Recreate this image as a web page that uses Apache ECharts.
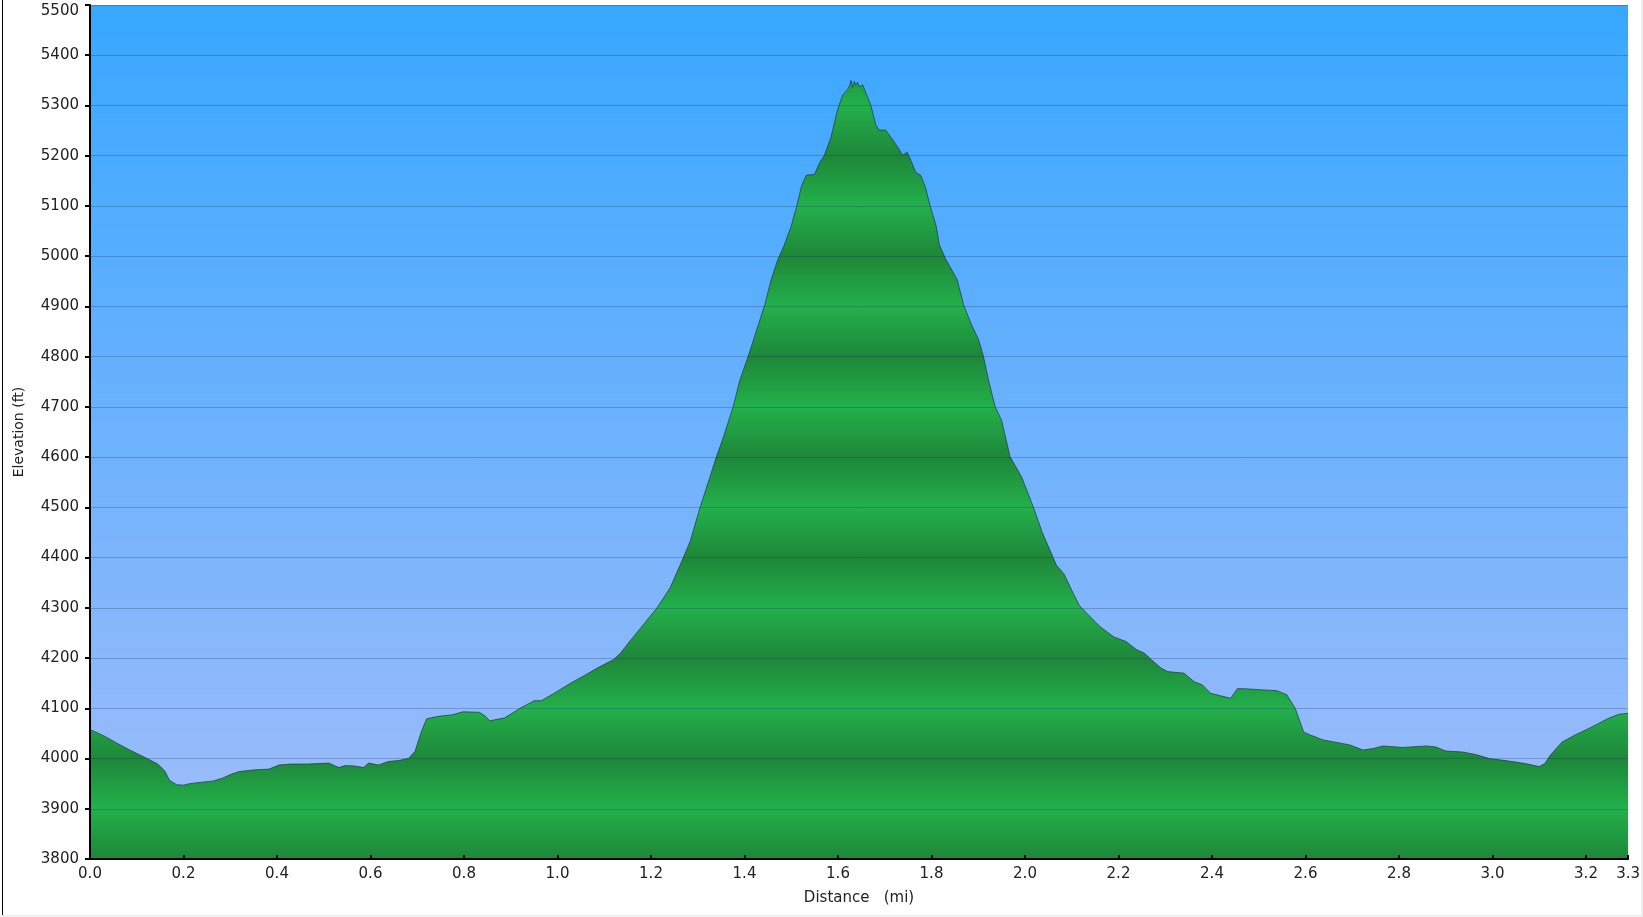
<!DOCTYPE html>
<html>
<head>
<meta charset="utf-8">
<script src="https://cdn.jsdelivr.net/npm/echarts@6/dist/echarts.min.js"></script>
<style>
  html, body { margin: 0; padding: 0; background: #ffffff; }
  #chart { position: absolute; left: 0; top: 0; width: 1643px; height: 917px; }
  #lb { position: absolute; left: 2px; top: 0; width: 1px; height: 915px; background: #000; }
  #bb { position: absolute; left: 0; top: 915px; width: 1643px; height: 2px; background: #efefef; }
  #rb { position: absolute; left: 1641px; top: 0; width: 2px; height: 917px; background: #efefef; }
</style>
</head>
<body>
<div id="chart"></div>
<div id="lb"></div><div id="bb"></div><div id="rb"></div>
<script>
// ---- data ----
const distanceMi = [
  0.00, 0.03, 0.057, 0.085, 0.12, 0.145, 0.16, 0.17, 0.185, 0.20,
  0.213, 0.24, 0.262, 0.284, 0.30, 0.319, 0.347, 0.383, 0.404, 0.43,
  0.468, 0.511, 0.532, 0.546, 0.567, 0.585, 0.596, 0.617, 0.638, 0.66,
  0.681, 0.695, 0.709, 0.72, 0.745, 0.775, 0.798, 0.833, 0.845, 0.855,
  0.887, 0.908, 0.922, 0.95, 0.965, 0.993, 1.028, 1.057, 1.085, 1.12,
  1.135, 1.156, 1.184, 1.213, 1.241, 1.266, 1.284, 1.305, 1.326, 1.34,
  1.355, 1.376, 1.39, 1.408, 1.426, 1.443, 1.457, 1.47, 1.485, 1.50,
  1.511, 1.522, 1.532, 1.55, 1.56, 1.571, 1.585, 1.599, 1.61, 1.62,
  1.625, 1.628, 1.631, 1.635, 1.638, 1.642, 1.645, 1.653, 1.66, 1.67,
  1.681, 1.688, 1.702, 1.713, 1.73, 1.738, 1.748, 1.759, 1.766, 1.777,
  1.787, 1.798, 1.81, 1.817, 1.83, 1.842, 1.855, 1.869, 1.885, 1.901,
  1.911, 1.922, 1.936, 1.95, 1.968, 1.993, 2.018, 2.037, 2.057, 2.067,
  2.083, 2.10, 2.116, 2.127, 2.16, 2.19, 2.216, 2.238, 2.255, 2.27,
  2.291, 2.305, 2.34, 2.362, 2.379, 2.397, 2.418, 2.44, 2.454, 2.468,
  2.503, 2.539, 2.56, 2.578, 2.596, 2.61, 2.638, 2.667, 2.695, 2.723,
  2.745, 2.766, 2.809, 2.858, 2.879, 2.90, 2.936, 2.964, 2.993, 3.035,
  3.07, 3.10, 3.112, 3.124, 3.149, 3.177, 3.213, 3.248, 3.27, 3.29
];
const elevationFt = [
  4058, 4045, 4031, 4017, 4001, 3989, 3975, 3957, 3948, 3947,
  3950, 3953, 3955, 3961, 3968, 3974, 3977, 3979, 3987, 3989,
  3989, 3991, 3982, 3986, 3985, 3982, 3991, 3987, 3994, 3996,
  4000, 4014, 4054, 4079, 4084, 4087, 4093, 4092, 4085, 4075,
  4081, 4093, 4101, 4115, 4115, 4130, 4150, 4165, 4180, 4197,
  4210, 4235, 4267, 4300, 4340, 4393, 4433, 4500, 4560, 4601,
  4640, 4701, 4753, 4801, 4853, 4902, 4953, 4990, 5022, 5060,
  5097, 5140, 5161, 5163, 5185, 5201, 5237, 5291, 5321, 5331,
  5340, 5350, 5336, 5348, 5340, 5346, 5337, 5341, 5324, 5301,
  5261, 5251, 5251, 5237, 5214, 5201, 5207, 5184, 5167, 5161,
  5137, 5097, 5060, 5022, 4995, 4975, 4953, 4902, 4865, 4833,
  4801, 4753, 4701, 4673, 4601, 4560, 4500, 4450, 4407, 4385,
  4368, 4335, 4305, 4294, 4263, 4242, 4233, 4217, 4210, 4197,
  4180, 4173, 4170, 4153, 4147, 4130, 4125, 4120, 4139, 4139,
  4137, 4135, 4127, 4100, 4053, 4047, 4037, 4032, 4027, 4017,
  4020, 4025, 4022, 4025, 4023, 4015, 4013, 4008, 4000, 3995,
  3990, 3984, 3990, 4007, 4033, 4047, 4063, 4080, 4088, 4090
];
const yMin = 3800, yMax = 5500, yStep = 100;
const xMin = 0, xMax = 3.29, xStep = 0.2;
const xTitle = 'Distance   (mi)';
const yTitle = 'Elevation (ft)';

// ---- styles ----
const LIGHT = [35, 176, 75];
const DARK = [30, 135, 57];
const FONT = 'DejaVu Sans';
const FS = 15;
function rgb(c) { return 'rgb(' + c.map(Math.round).join(',') + ')'; }
function mix(a, b, t) { return [0,1,2].map(i => a[i] + (b[i] - a[i]) * t); }

const points = distanceMi.map((d, i) => [d, elevationFt[i]]);
const maxE = Math.max.apply(null, elevationFt);

// banded gradient: light at odd hundreds, dark at even hundreds (offsets in data units)
function bandColor(v) {
  const k = Math.floor((v - yMin) / yStep);
  const frac = (v - yMin) / yStep - k;
  const lowIsDark = (k % 2 === 0);
  const lowC = lowIsDark ? DARK : LIGHT, highC = lowIsDark ? LIGHT : DARK;
  return mix(lowC, highC, frac);
}
const stops = [{ offset: 0, color: rgb(bandColor(maxE)) }];
for (let h = Math.floor(maxE / yStep) * yStep; h >= yMin; h -= yStep) {
  stops.push({ offset: (maxE - h) / (maxE - yMin), color: rgb(bandColor(h)) });
}

const chart = echarts.init(document.getElementById('chart'));
chart.setOption({
  animation: false,
  backgroundColor: '#ffffff',
  grid: {
    left: 90, right: 6, top: 5, bottom: 58,
    show: true, borderWidth: 0, z: 0,
    backgroundColor: {
      type: 'linear', x: 0, y: 0, x2: 0, y2: 1,
      colorStops: [
        { offset: 0, color: '#37A7FF' },
        { offset: 1, color: '#A2BDFA' }
      ]
    }
  },
  xAxis: {
    type: 'value', min: xMin, max: xMax, interval: xStep, z: 3,
    name: xTitle, nameLocation: 'middle', nameGap: 32,
    nameTextStyle: { fontFamily: FONT, fontSize: FS, color: '#222' },
    axisLine: { show: true, lineStyle: { color: '#000', width: 2 } },
    axisTick: { show: true, inside: true, length: 4, lineStyle: { color: '#000', width: 2 } },
    axisLabel: {
      fontFamily: FONT, fontSize: FS, color: '#222', margin: 8,
      formatter: v => v.toFixed(1)
    },
    splitLine: { show: false }
  },
  yAxis: {
    type: 'value', min: yMin, max: yMax, interval: yStep, z: 3,
    name: yTitle, nameLocation: 'middle', nameGap: 64, nameRotate: 90,
    nameTextStyle: { fontFamily: FONT, fontSize: 14, color: '#222' },
    axisLine: { show: true, lineStyle: { color: '#000', width: 2 } },
    axisTick: { show: true, inside: false, length: 5, lineStyle: { color: '#000', width: 2 } },
    axisLabel: {
      fontFamily: FONT, fontSize: FS, color: '#222', margin: 11,
      formatter: v => (v === yMax ? '{t|' + v + '}' : String(v)),
      rich: {
        t: { fontFamily: FONT, fontSize: FS, color: '#222', padding: [12, 0, 0, 0] }
      }
    },
    splitLine: { show: true, lineStyle: { color: 'rgba(20,50,100,0.28)', width: 1 } }
  },
  series: [{
    type: 'line',
    z: 1,
    data: points,
    showSymbol: false,
    symbol: 'none',
    lineStyle: { color: 'rgba(35,50,70,0.7)', width: 1 },
    areaStyle: {
      opacity: 1,
      color: { type: 'linear', x: 0, y: 0, x2: 0, y2: 1, colorStops: stops }
    }
  }]
});
</script>
</body>
</html>
